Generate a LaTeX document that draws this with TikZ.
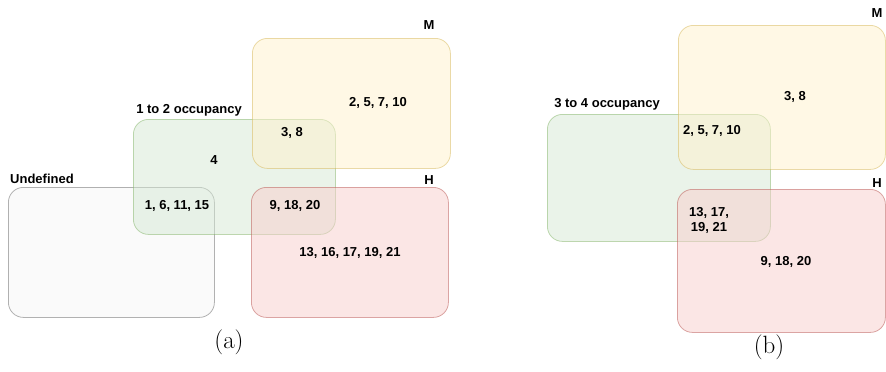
\documentclass[tikz,border=0pt]{standalone}
\usepackage{fontspec}
\setsansfont{Liberation Sans}
\definecolor{mfill}{HTML}{FFF2CC}\definecolor{mdraw}{HTML}{D6B656}
\definecolor{gfill}{HTML}{D5E8D4}\definecolor{gdraw}{HTML}{82B366}
\definecolor{hfill}{HTML}{F8CECC}\definecolor{hdraw}{HTML}{B85450}
\definecolor{ufill}{HTML}{F5F5F5}\definecolor{udraw}{HTML}{666666}
\tikzset{
  setbox/.style={rectangle, rounded corners=15pt, anchor=north west, inner sep=0pt,
    fill opacity=0.5, draw opacity=0.5, line width=0.8pt},
  mbox/.style={setbox, fill=mfill, draw=mdraw},
  gbox/.style={setbox, fill=gfill, draw=gdraw},
  hbox/.style={setbox, fill=hfill, draw=hdraw},
  ubox/.style={setbox, fill=ufill, draw=udraw},
  lab/.style={font=\sffamily\bfseries\fontsize{13}{15}\selectfont, inner sep=0pt, align=center},
  subcap/.style={font=\fontsize{25}{30}\selectfont, inner sep=0pt}
}
\begin{document}
\begin{tikzpicture}[x=1pt,y=-1pt]
\useasboundingbox (0,0) rectangle (886,372);
% (a)
\node[ubox, minimum width=206, minimum height=130] (ua) at (8,187) {};
\node[gbox, minimum width=202, minimum height=115] (ga) at (133,119) {};
\node[mbox, minimum width=198, minimum height=130] (ma) at (252,38) {};
\node[hbox, minimum width=197, minimum height=130] (ha) at (251,187) {};
\node[lab] (lma) at (429,25) {M};
\node[lab] (lha) at (429,180) {H};
\node[lab] (lga) at (189,110) {1 to 2 occupancy};
\node[lab, anchor=west] (lua) at (10,179) {Undefined};
\node[lab] (t1) at (378,103) {2, 5, 7, 10};
\node[lab] (t2) at (292,133) {3, 8};
\node[lab] (t3) at (214,160) {4};
\node[lab] (t4) at (177,206) {1, 6, 11, 15};
\node[lab] (t5) at (295,206) {9, 18, 20};
\node[lab] (t6) at (350,253) {13, 16, 17, 19, 21};
\node[subcap] (capa) at (229,342) {(a)};
% (b)
\node[gbox, minimum width=223, minimum height=127] (gb) at (547,114) {};
\node[mbox, minimum width=207, minimum height=144] (mb) at (678,25) {};
\node[hbox, minimum width=208, minimum height=143] (hb) at (677,189) {};
\node[lab] (lmb) at (877,13) {M};
\node[lab] (lhb) at (877,183) {H};
\node[lab] (lgb) at (607,104) {3 to 4 occupancy};
\node[lab] (s1) at (795,97) {3, 8};
\node[lab] (s2) at (712,131) {2, 5, 7, 10};
\node[lab] (s3) at (709,220) {13, 17,\\19, 21};
\node[lab] (s4) at (786,262) {9, 18, 20};
\node[subcap] (capb) at (769,347) {(b)};
\end{tikzpicture}
\end{document}
